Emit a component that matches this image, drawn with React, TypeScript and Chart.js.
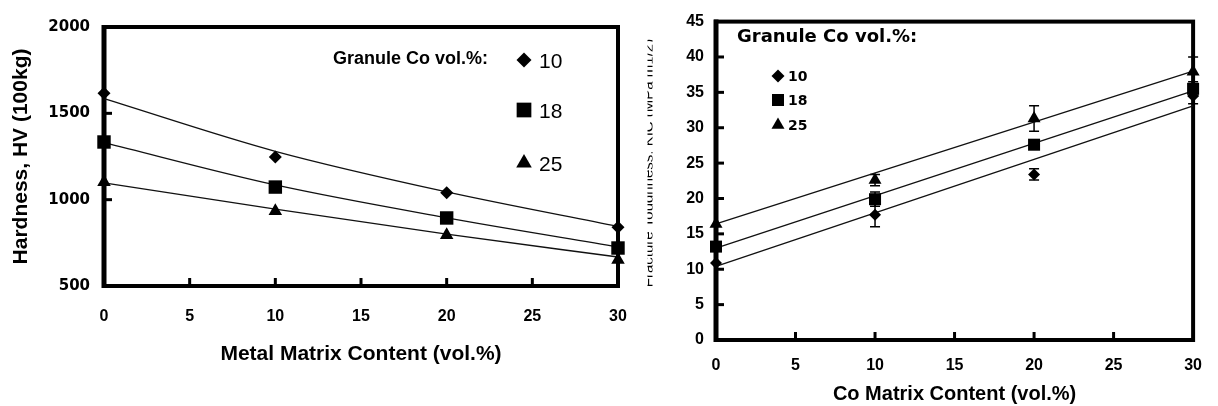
import React, { useEffect, useRef } from 'react';
import { Chart, registerables } from 'chart.js';

Chart.register(...registerables);

const FONT = "'Liberation Sans', Arial, Helvetica, sans-serif";
const DEJAVU = "'DejaVu Sans', sans-serif";

// ---------- shared categories ----------
const matrixContent = [0, 10, 20, 30];
const granuleLabels = ['10', '18', '25'];
const markerStyles = ['rectRot', 'rect', 'triangle'];

// ---------- left chart: hardness ----------
const hv10 = [1616, 1247, 1040, 840];
const hv18 = [1334, 1073, 894, 720];
const hv25 = [1102, 934, 795, 652];
const hvFit10 = [1585, 1280, 1045, 845];
const hvFit18 = [1330, 1085, 895, 727];
const hvFit25 = [1097, 945, 800, 668];
const hvTicks = [500, 1000, 1500, 2000];

// ---------- right chart: toughness ----------
const k10 = [10.9, 17.7, 23.4, 34.5];
const k18 = [13.2, 19.9, 27.6, 35.5];
const k25 = [16.4, 22.6, 31.3, 37.9];
const kErr10 = [0, 1.7, 0.8, 1.1];
const kErr18 = [0, 1.0, 0.5, 1.0];
const kErr25 = [0, 0.8, 1.8, 2.1];
const kFit10 = [10.4, 33.1];
const kFit18 = [13.0, 35.2];
const kFit25 = [16.4, 38.0];
const kFitX = [0, 30];

const xy = (xs: number[], ys: number[]) => xs.map((x, i) => ({ x, y: ys[i] }));

function drawMarker(ctx: CanvasRenderingContext2D, style: string, x: number, y: number, r: number) {
  ctx.beginPath();
  if (style === 'rectRot') {
    ctx.moveTo(x, y - r);
    ctx.lineTo(x + r, y);
    ctx.lineTo(x, y + r);
    ctx.lineTo(x - r, y);
  } else if (style === 'rect') {
    const s = r * Math.SQRT1_2;
    ctx.rect(x - s, y - s, 2 * s, 2 * s);
  } else {
    ctx.moveTo(x, y - r);
    ctx.lineTo(x + r * 0.866, y + r / 2);
    ctx.lineTo(x - r * 0.866, y + r / 2);
  }
  ctx.closePath();
  ctx.fill();
}

const framePlugin = {
  id: 'frame',
  beforeDatasetsDraw(chart: any) {
    const { ctx, chartArea: a, scales } = chart;
    ctx.save();
    ctx.strokeStyle = '#000';
    ctx.fillStyle = '#000';
    // inward tick marks
    ctx.lineWidth = 3;
    const xs = scales.x;
    xs.ticks.forEach((t: any) => {
      if (t.value === xs.min || t.value === xs.max) return;
      const px = xs.getPixelForValue(t.value);
      ctx.beginPath();
      ctx.moveTo(px, a.bottom);
      ctx.lineTo(px, a.bottom - 8);
      ctx.stroke();
    });
    const ys = scales.y;
    ys.ticks.forEach((t: any) => {
      if (t.value === ys.min || t.value === ys.max) return;
      const py = ys.getPixelForValue(t.value);
      ctx.beginPath();
      ctx.moveTo(a.left, py);
      ctx.lineTo(a.left + 8, py);
      ctx.stroke();
    });
    // frame
    ctx.lineWidth = 4;
    ctx.strokeRect(a.left, a.top, a.right - a.left, a.bottom - a.top);
    ctx.lineWidth = 5;
    ctx.beginPath();
    ctx.moveTo(a.left, a.top - 2);
    ctx.lineTo(a.left, a.bottom + 2);
    ctx.stroke();
    ctx.restore();
  },
};

const errorBarPlugin = {
  id: 'errorBars',
  beforeDatasetsDraw(chart: any) {
    const { ctx, scales } = chart;
    const errs = [kErr10, kErr18, kErr25];
    const vals = [k10, k18, k25];
    ctx.save();
    ctx.strokeStyle = '#000';
    ctx.lineWidth = 1.5;
    vals.forEach((series, si) => {
      series.forEach((v, i) => {
        const e = errs[si][i];
        if (!e) return;
        const px = scales.x.getPixelForValue(matrixContent[i]);
        const top = scales.y.getPixelForValue(v + e);
        const bot = scales.y.getPixelForValue(v - e);
        ctx.beginPath();
        ctx.moveTo(px, top);
        ctx.lineTo(px, bot);
        ctx.moveTo(px - 5, top);
        ctx.lineTo(px + 5, top);
        ctx.moveTo(px - 5, bot);
        ctx.lineTo(px + 5, bot);
        ctx.stroke();
      });
    });
    ctx.restore();
  },
};

const leftLegendPlugin = {
  id: 'leftLegend',
  afterDraw(chart: any) {
    const { ctx } = chart;
    ctx.save();
    ctx.fillStyle = '#000';
    ctx.textAlign = 'left';
    ctx.textBaseline = 'alphabetic';
    ctx.font = `bold 18px ${FONT}`;
    ctx.fillText('Granule Co vol.%:', 333, 64);
    const ys = [60, 110, 163];
    const rs = [7.5, 10.4, 9];
    ctx.font = `21px ${FONT}`;
    granuleLabels.forEach((lab, i) => {
      drawMarker(ctx, markerStyles[i], 524, ys[i], rs[i]);
      ctx.fillText(lab, 539, ys[i] + 7.5);
    });
    ctx.restore();
  },
};

const rightLegendPlugin = {
  id: 'rightLegend',
  afterDraw(chart: any) {
    const { ctx } = chart;
    ctx.save();
    ctx.fillStyle = '#000';
    ctx.textAlign = 'left';
    ctx.textBaseline = 'alphabetic';
    ctx.font = `bold 18px ${DEJAVU}`;
    ctx.fillText('Granule Co vol.%:', 737, 42);
    const ys = [76, 100, 125];
    const rs = [6.5, 8.5, 7.5];
    ctx.font = `bold 14px ${DEJAVU}`;
    granuleLabels.forEach((lab, i) => {
      drawMarker(ctx, markerStyles[i], 778, ys[i], rs[i]);
      ctx.fillText(lab, 788, ys[i] + 5);
    });
    // clipped axis title remnant between the two panels
    ctx.beginPath();
    ctx.rect(647.5, 38, 5, 252);
    ctx.clip();
    ctx.translate(652.5, 163);
    ctx.rotate(-Math.PI / 2);
    ctx.textAlign = 'center';
    ctx.font = `15px ${FONT}`;
    ctx.fillText('Fracture Toughness, KIC (MPa m1/2)', 0, 0);
    ctx.restore();
  },
};

function baseScales(opts: any) {
  return {
    x: {
      type: 'linear',
      min: 0,
      max: 30,
      ticks: {
        stepSize: 5,
        padding: opts.xTickPad,
        color: '#000',
        font: { family: FONT, size: 16, weight: 'bold' },
        callback: (v: any) => String(v),
      },
      grid: { display: false, drawTicks: false },
      border: { display: false },
      title: {
        display: true,
        text: opts.xTitle,
        color: '#000',
        font: { family: FONT, size: opts.xTitleSize, weight: 'bold' },
        padding: { top: 0, bottom: opts.xTitlePad },
      },
      afterFit: (s: any) => {
        s.height = opts.xHeight;
      },
    },
    y: {
      type: 'linear',
      min: opts.yMin,
      max: opts.yMax,
      ticks: {
        stepSize: opts.yStep,
        padding: opts.yTickPad,
        color: '#000',
        font: opts.yFont,
        callback: (v: any) => String(v),
      },
      grid: { display: false, drawTicks: false },
      border: { display: false },
      title: opts.yTitle
        ? {
            display: true,
            text: opts.yTitle,
            color: '#000',
            font: { family: FONT, size: 21, weight: 'bold' },
            padding: { top: 9, bottom: 0 },
          }
        : { display: false },
      afterFit: (s: any) => {
        s.width = opts.yWidth;
      },
    },
  };
}

function markerDataset(ys: number[], style: string, r: number) {
  return {
    data: xy(matrixContent, ys),
    showLine: false,
    pointStyle: style,
    pointRadius: r,
    pointBackgroundColor: '#000',
    pointBorderColor: '#000',
    pointBorderWidth: 0,
    clip: false,
  };
}

function fitDataset(xs: number[], ys: number[], curved: boolean) {
  return {
    data: xy(xs, ys),
    borderColor: '#111',
    borderWidth: 1.3,
    pointRadius: 0,
    fill: false,
    cubicInterpolationMode: curved ? 'monotone' : 'default',
    tension: 0,
    clip: false,
  };
}

export default function App() {
  const leftRef = useRef<HTMLCanvasElement | null>(null);
  const rightRef = useRef<HTMLCanvasElement | null>(null);

  useEffect(() => {
    const left = new Chart(leftRef.current as HTMLCanvasElement, {
      type: 'line',
      data: {
        datasets: [
          markerDataset(hv10, 'rectRot', 6.5),
          markerDataset(hv18, 'rect', 9.5),
          markerDataset(hv25, 'triangle', 7.8),
          fitDataset(matrixContent, hvFit10, true),
          fitDataset(matrixContent, hvFit18, true),
          fitDataset(matrixContent, hvFit25, true),
        ] as any,
      },
      options: {
        responsive: false,
        animation: false,
        events: [],
        layout: { padding: { left: 0, top: 27, right: 600, bottom: 0 } },
        plugins: { legend: { display: false }, tooltip: { enabled: false } },
        scales: baseScales({
          xTitle: 'Metal Matrix Content (vol.%)',
          xTitleSize: 21,
          xTitlePad: 39,
          xTickPad: 21,
          xHeight: 120,
          yMin: hvTicks[0],
          yMax: hvTicks[hvTicks.length - 1],
          yStep: 500,
          yTickPad: 14,
          yFont: { family: DEJAVU, size: 15, weight: 'bold' },
          yTitle: 'Hardness, HV (100kg)',
          yWidth: 104,
        }) as any,
      },
      plugins: [framePlugin, leftLegendPlugin],
    });

    const right = new Chart(rightRef.current as HTMLCanvasElement, {
      type: 'line',
      data: {
        datasets: [
          markerDataset(k10, 'rectRot', 6),
          markerDataset(k18, 'rect', 8.5),
          markerDataset(k25, 'triangle', 7.5),
          fitDataset(kFitX, kFit10, false),
          fitDataset(kFitX, kFit18, false),
          fitDataset(kFitX, kFit25, false),
        ] as any,
      },
      options: {
        responsive: false,
        animation: false,
        events: [],
        layout: { padding: { left: 640, top: 17, right: 16, bottom: 0 } },
        plugins: { legend: { display: false }, tooltip: { enabled: false } },
        scales: baseScales({
          xTitle: 'Co Matrix Content (vol.%)',
          xTitleSize: 20,
          xTitlePad: 0,
          xTickPad: 16,
          xHeight: 66,
          yMin: 0,
          yMax: 45,
          yStep: 5,
          yTickPad: 12,
          yFont: { family: FONT, size: 16, weight: 'bold' },
          yTitle: null,
          yWidth: 76,
        }) as any,
      },
      plugins: [framePlugin, errorBarPlugin, rightLegendPlugin],
    });

    return () => {
      left.destroy();
      right.destroy();
    };
  }, []);

  const canvasStyle: React.CSSProperties = {
    position: 'absolute',
    left: 0,
    top: 0,
    width: 1218,
    height: 406,
  };

  return (
    <div
      style={{
        position: 'absolute',
        left: 0,
        top: 0,
        width: 1218,
        height: 406,
        background: '#fff',
        overflow: 'hidden',
      }}
    >
      <canvas ref={leftRef} width={1218} height={406} style={canvasStyle} />
      <canvas ref={rightRef} width={1218} height={406} style={canvasStyle} />
    </div>
  );
}
